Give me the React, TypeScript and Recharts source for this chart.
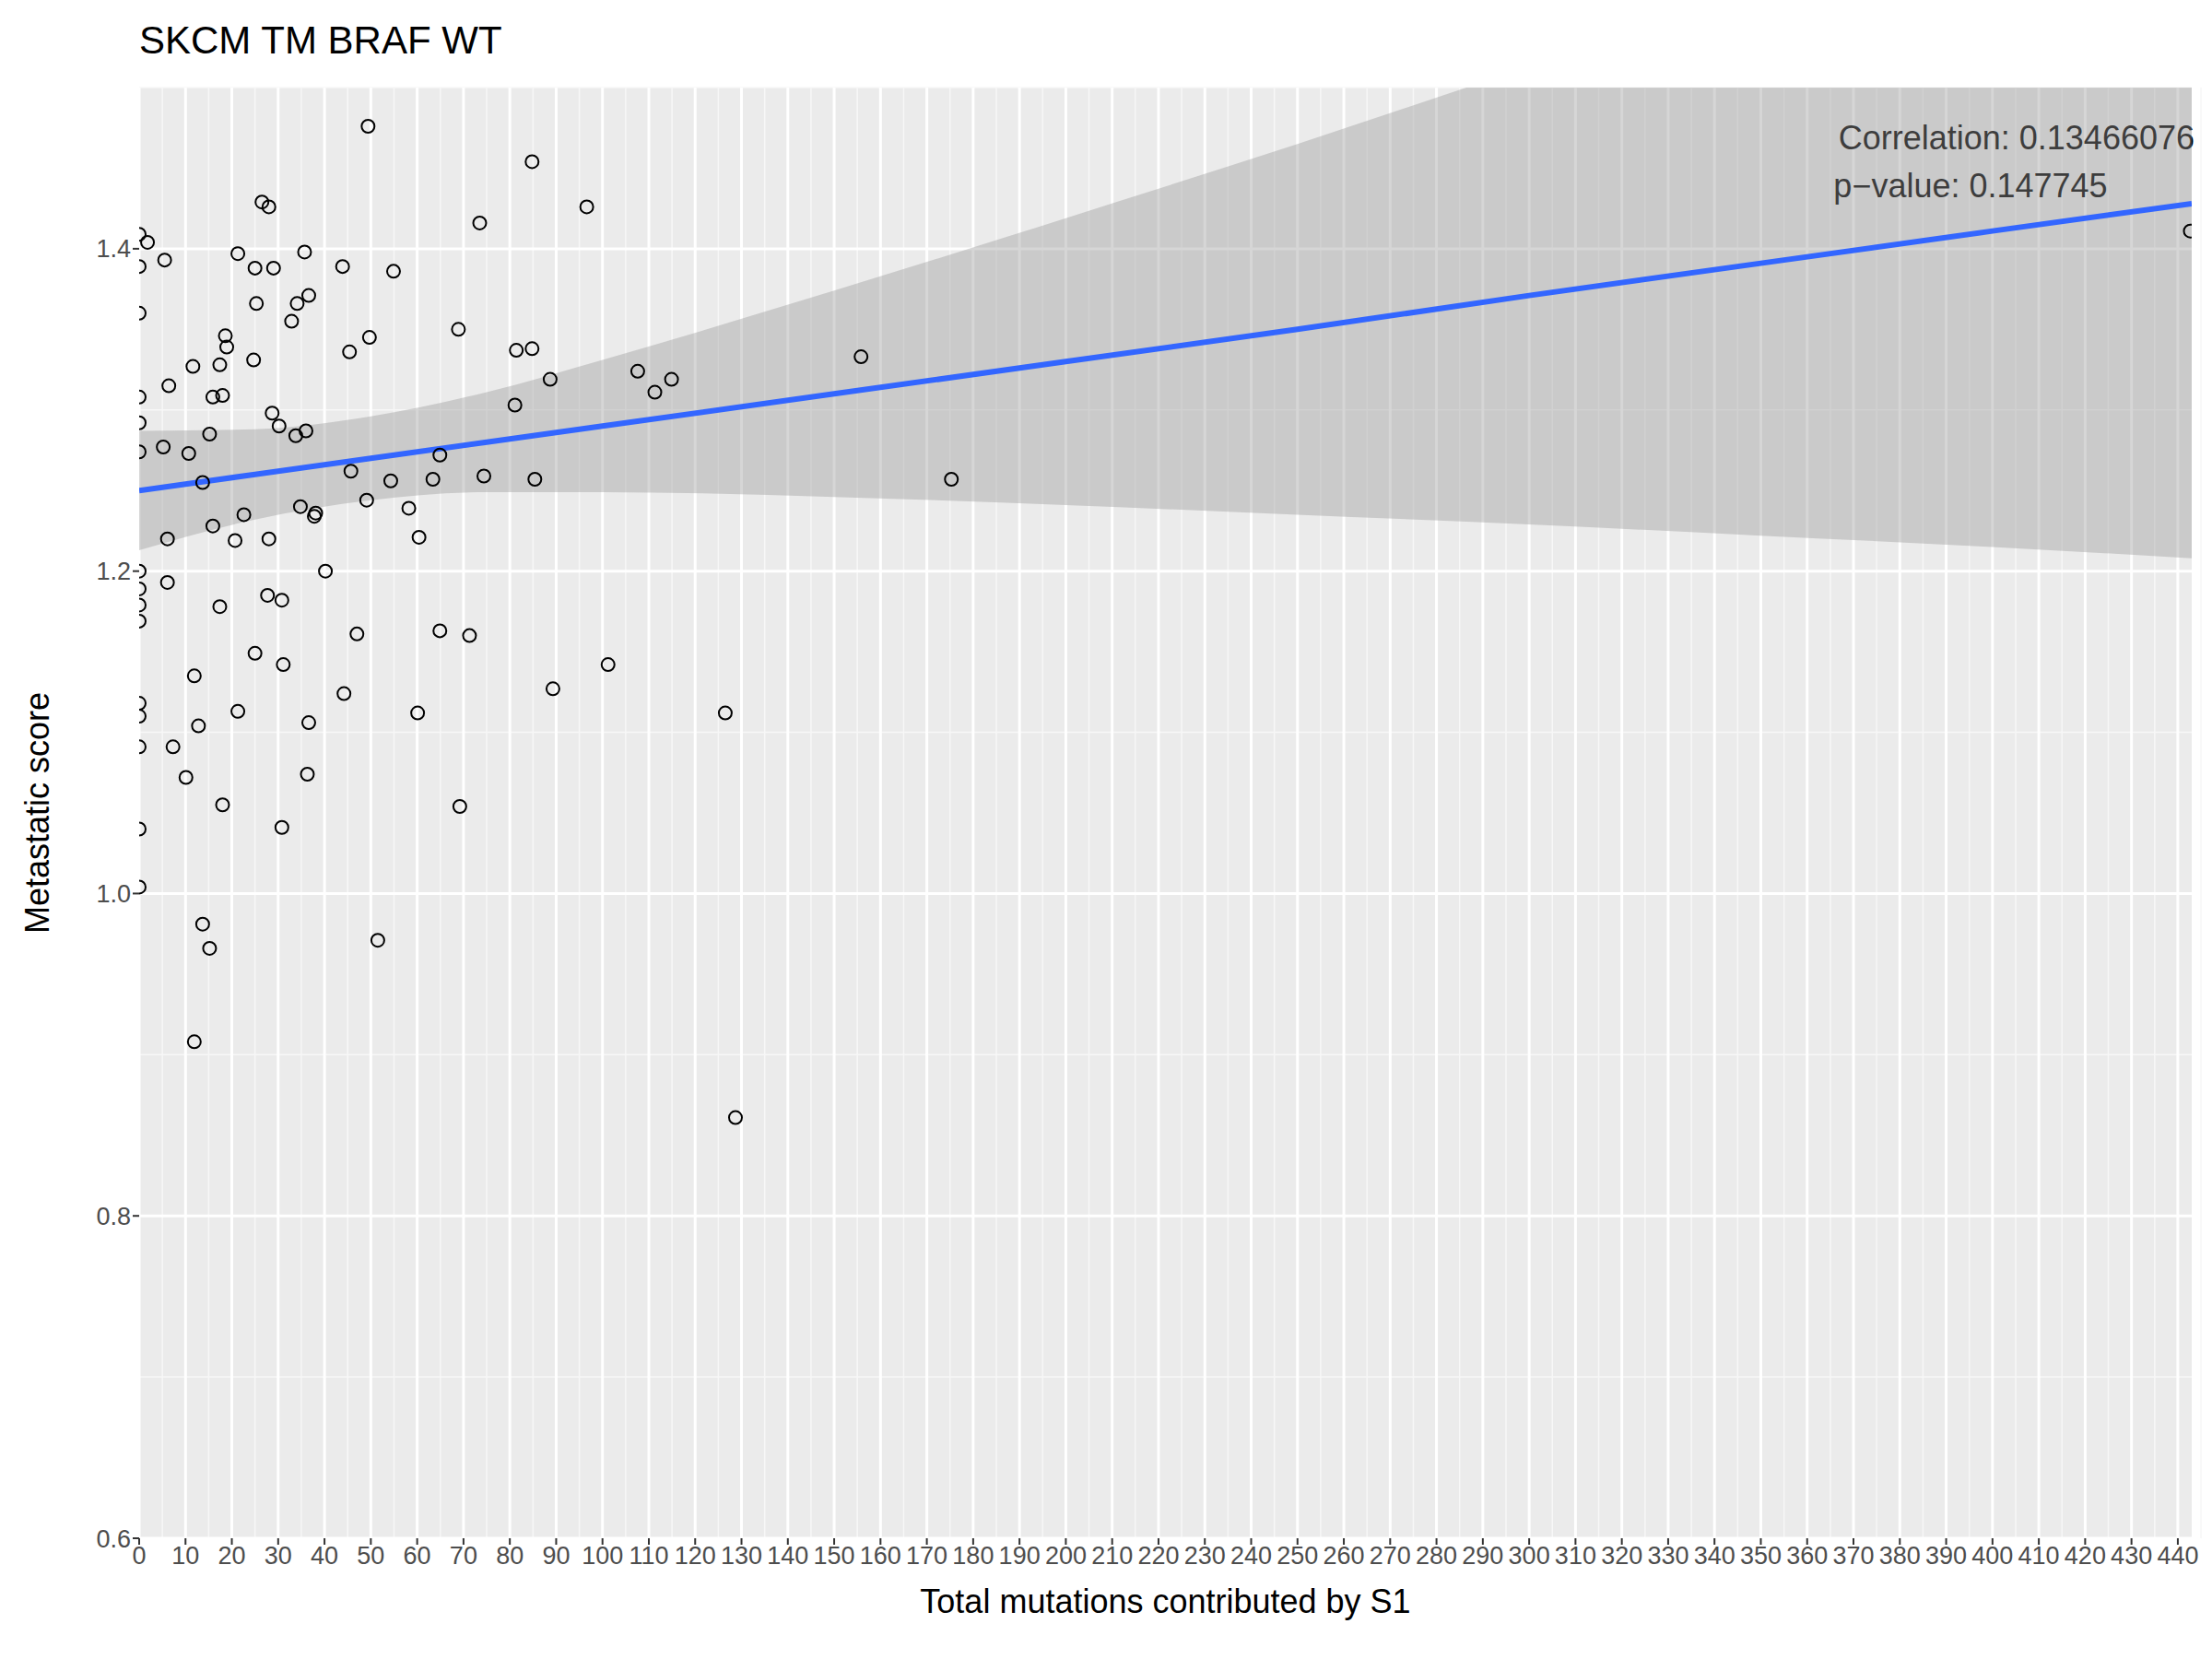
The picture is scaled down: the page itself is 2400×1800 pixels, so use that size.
import {
  ComposedChart,
  Scatter,
  Line,
  Area,
  XAxis,
  YAxis,
  CartesianGrid,
} from "recharts";

// sample points: [mutations, metastatic score]
const pointsX = [
  0, 0, 0, 1.8, 5.5, 0, 0, 0, 5.2, 6.4, 10.7, 11.6, 13.7, 15.2, 15.9, 17.4, 18.0, 18.6, 18.9, 21.3,
  25.0, 25.3, 26.5, 28.0, 29.0, 24.7, 32.9, 34.1, 35.7, 36.6, 36.0, 33.8, 28.7, 30.2, 43.9, 45.4,
  49.7, 49.4, 54.9, 45.7, 49.1, 54.3, 58.2, 60.4, 64.9, 63.4, 68.9, 73.5, 74.4, 81.4, 81.1, 84.8,
  84.8, 85.4, 88.7, 96.6, 107.6, 111.3, 114.9, 155.8, 175.3, 442.7,
  0, 0, 0, 0, 6.1, 6.1, 15.9, 22.6, 20.7, 28.0, 17.4, 27.7, 30.8, 38.1, 37.8, 34.8, 40.2, 0, 0, 0,
  0, 0, 11.9, 12.8, 7.3, 10.1, 21.3, 25.0, 31.1, 36.6, 36.3, 18.0, 30.8, 47.0, 44.2, 60.1, 64.9,
  71.3, 89.3, 101.2, 126.5, 128.7, 69.2, 51.5, 13.7, 15.2, 11.9,
];
const pointsY = [
  1.409, 1.389, 1.36, 1.404, 1.393, 1.308, 1.292, 1.274, 1.277, 1.315, 1.273, 1.327, 1.255, 1.285,
  1.308, 1.328, 1.309, 1.346, 1.339, 1.397, 1.388, 1.366, 1.429, 1.426, 1.388, 1.331, 1.355, 1.366,
  1.398, 1.371, 1.287, 1.284, 1.298, 1.29, 1.389, 1.336, 1.345, 1.476, 1.386, 1.262, 1.244, 1.256,
  1.239, 1.221, 1.272, 1.257, 1.35, 1.416, 1.259, 1.337, 1.303, 1.454, 1.338, 1.257, 1.319, 1.426,
  1.324, 1.311, 1.319, 1.333, 1.257, 1.411,
  1.2, 1.189, 1.179, 1.169, 1.22, 1.193, 1.228, 1.235, 1.219, 1.22, 1.178, 1.185, 1.182, 1.236,
  1.234, 1.24, 1.2, 1.118, 1.11, 1.091, 1.04, 1.004, 1.135, 1.104, 1.091, 1.072, 1.113, 1.149,
  1.142, 1.106, 1.074, 1.055, 1.041, 1.161, 1.124, 1.112, 1.163, 1.16, 1.127, 1.142, 1.112, 0.861,
  1.054, 0.971, 0.981, 0.966, 0.908,
];

// fitted line and confidence band
const fitX = [0, 25, 50, 75, 100, 150, 200, 250, 300, 350, 400, 443];
const fitY = [1.25, 1.26, 1.27, 1.28, 1.29, 1.31, 1.33, 1.35, 1.371, 1.391, 1.411, 1.428];
const bandLow = [1.213, 1.232, 1.244, 1.249, 1.249, 1.246, 1.241, 1.235, 1.229, 1.222, 1.215, 1.208];
const bandHigh = [1.287, 1.288, 1.296, 1.311, 1.331, 1.374, 1.419, 1.465, 1.513, 1.56, 1.607, 1.648];

const xTicks = Array.from({ length: 45 }, (_, i) => i * 10);
const xMinor = Array.from({ length: 45 }, (_, i) => i * 10 + 5);
const yTicks = [0.6, 0.8, 1.0, 1.2, 1.4];
const yMinor = [0.7, 0.9, 1.1, 1.3, 1.5];

const points = pointsX.map((x, i) => ({ x, y: pointsY[i] }));
const ribbon = fitX.map((x, i) => ({ x, fit: fitY[i], band: [bandLow[i], bandHigh[i]] }));

const FONT = "'Liberation Sans', Arial, sans-serif";

const HollowDot = (props: any) => (
  <circle cx={props.cx} cy={props.cy} r={7} fill="none" stroke="#000" strokeWidth={2} />
);

export default function App() {
  return (
    <div style={{ position: "absolute", left: 0, top: 0, width: 2400, height: 1800, background: "#fff", fontFamily: FONT }}>
      <ComposedChart
        width={2400}
        height={1800}
        margin={{ top: 95, right: 22, left: 0, bottom: 0 }}
      >
        <CartesianGrid fill="#ebebeb" stroke="#f7f7f7" strokeWidth={1.5}
          horizontalValues={yMinor} verticalValues={xMinor} />
        <CartesianGrid fill="none" stroke="#fff" strokeWidth={3}
          horizontalValues={yTicks} verticalValues={xTicks} />
        <XAxis
          type="number"
          dataKey="x"
          domain={[0, 443]}
          allowDataOverflow
          ticks={xTicks}
          interval={0}
          height={131}
          axisLine={false}
          tickLine={{ stroke: "#333", strokeWidth: 2 }}
          tickSize={7}
          tick={{ fill: "#4d4d4d", fontSize: 27, fontFamily: FONT }}
          label={{ value: "Total mutations contributed by S1", position: "insideBottom", offset: 50, fill: "#000", fontSize: 36, fontFamily: FONT }}
        />
        <YAxis
          type="number"
          dataKey="y"
          domain={[0.6, 1.5]}
          allowDataOverflow
          ticks={yTicks}
          tickFormatter={(v: number) => v.toFixed(1)}
          width={151}
          axisLine={false}
          tickLine={{ stroke: "#333", strokeWidth: 2 }}
          tickSize={7}
          tick={{ fill: "#4d4d4d", fontSize: 27, fontFamily: FONT }}
          label={{ value: "Metastatic score", angle: -90, position: "insideLeft", offset: 40, fill: "#000", fontSize: 36, fontFamily: FONT, style: { textAnchor: "middle" } }}
        />
        <Area data={ribbon} dataKey="band" type="monotone" fill="#999" fillOpacity={0.4} stroke="none" isAnimationActive={false} />
        <Scatter data={points} shape={HollowDot} isAnimationActive={false} />
        <Line data={ribbon} dataKey="fit" type="linear" stroke="#3366ff" strokeWidth={6} dot={false} isAnimationActive={false} />
        <text x={151} y={58} fontSize={42} fontFamily={FONT} fill="#000">SKCM TM BRAF WT</text>
        <text x={2381} y={162} fontSize={36} fontFamily={FONT} fill="#000" textAnchor="end">Correlation: 0.13466076</text>
        <text x={2138} y={214} fontSize={36} fontFamily={FONT} fill="#000" textAnchor="middle">p−value: 0.147745</text>
      </ComposedChart>
    </div>
  );
}
